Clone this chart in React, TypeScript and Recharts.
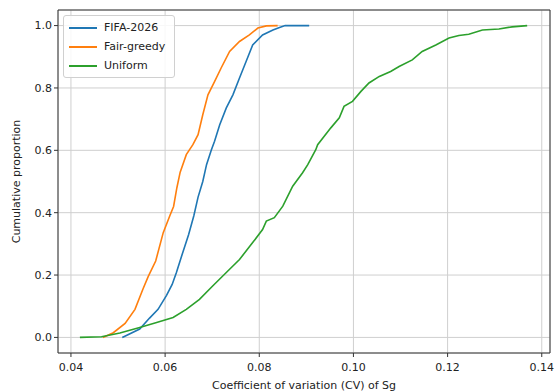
import { LineChart, Line, XAxis, YAxis, CartesianGrid, Legend, ReferenceLine } from 'recharts';

const xTicks = [0.04, 0.06, 0.08, 0.1, 0.12, 0.14];
const yTicks = [0, 0.2, 0.4, 0.6, 0.8, 1.0];

const fifaX = [0.0509, 0.0546, 0.0567, 0.0585, 0.0603, 0.0615, 0.0624, 0.0637, 0.065, 0.0661, 0.067, 0.068, 0.0688, 0.0698, 0.0705, 0.0716, 0.073, 0.0744, 0.0758, 0.0772, 0.0786, 0.0807, 0.0829, 0.0843, 0.0855, 0.0906];
const fifaY = [0, 0.027, 0.062, 0.09, 0.135, 0.17, 0.208, 0.27, 0.33, 0.39, 0.45, 0.5, 0.554, 0.6, 0.629, 0.682, 0.736, 0.778, 0.832, 0.885, 0.938, 0.97, 0.986, 0.994, 1.0, 1.0];

const fairX = [0.0468, 0.049, 0.0515, 0.0536, 0.0553, 0.0564, 0.058, 0.0596, 0.061, 0.0618, 0.0625, 0.0632, 0.0645, 0.0659, 0.067, 0.068, 0.0691, 0.0705, 0.0719, 0.0737, 0.0758, 0.0779, 0.0797, 0.0815, 0.0839];
const fairY = [0, 0.015, 0.045, 0.09, 0.155, 0.195, 0.245, 0.336, 0.39, 0.42, 0.48, 0.53, 0.586, 0.618, 0.65, 0.714, 0.778, 0.82, 0.864, 0.917, 0.949, 0.97, 0.992, 0.999, 1.0];

const uniformX = [0.0419, 0.0465, 0.0504, 0.0546, 0.0582, 0.0617, 0.0645, 0.0673, 0.0701, 0.073, 0.0758, 0.0786, 0.0807, 0.0815, 0.0832, 0.085, 0.0871, 0.0892, 0.0903, 0.092, 0.0924, 0.0952, 0.097, 0.098, 0.0998, 0.1016, 0.1033, 0.1055, 0.1079, 0.1097, 0.1125, 0.1146, 0.1175, 0.1203, 0.1224, 0.1245, 0.1274, 0.1309, 0.1337, 0.1369];
const uniformY = [0, 0.002, 0.014, 0.032, 0.048, 0.064, 0.09, 0.122, 0.165, 0.208, 0.25, 0.304, 0.346, 0.373, 0.384, 0.421, 0.485, 0.528, 0.554, 0.602, 0.618, 0.672, 0.704, 0.741, 0.757, 0.789, 0.816, 0.837, 0.853, 0.869, 0.89, 0.917, 0.938, 0.96, 0.968, 0.972, 0.986, 0.989, 0.996, 1.0];

const toPoints = (xs: number[], ys: number[]) => xs.map((x, i) => ({ x, y: ys[i] }));

const series = [
    { name: 'FIFA-2026', color: '#1f77b4', data: toPoints(fifaX, fifaY) },
    { name: 'Fair-greedy', color: '#ff7f0e', data: toPoints(fairX, fairY) },
    { name: 'Uniform', color: '#2ca02c', data: toPoints(uniformX, uniformY) },
];

const font = 'DejaVu Sans, sans-serif';
const X_MIN = 0.03725;
const X_MAX = 0.14175;
const Y_MIN = -0.05;
const Y_MAX = 1.05;

function LegendBox() {
    return (
        <div
            style={{
                background: 'rgba(255,255,255,0.85)',
                border: '1px solid #d0d0d0',
                borderRadius: 3,
                padding: '2px 9px 2px 5px',
                fontFamily: font,
                fontSize: 11,
                color: '#222',
                width: 'fit-content',
            }}
        >
            {series.map((s) => (
                <div key={s.name} style={{ display: 'flex', alignItems: 'center', height: 19, whiteSpace: 'nowrap' }}>
                    <span style={{ display: 'inline-block', width: 28, height: 2, background: s.color, marginRight: 7 }} />
                    <span>{s.name}</span>
                </div>
            ))}
        </div>
    );
}

export default function App() {
    return (
        <div style={{ position: 'absolute', left: 0, top: 0, background: '#fff' }}>
            <LineChart width={556} height={392} margin={{ top: 10, right: 6, left: 0, bottom: 0 }}>
                <CartesianGrid stroke="#cfcfcf" strokeWidth={1} />
                <XAxis
                    type="number"
                    dataKey="x"
                    domain={[X_MIN, X_MAX]}
                    ticks={xTicks}
                    allowDataOverflow
                    height={39}
                    tickSize={4}
                    tickMargin={6}
                    stroke="#333"
                    tick={{ fill: '#222', fontSize: 11, fontFamily: font }}
                    tickFormatter={(v: number) => v.toFixed(2)}
                    label={{
                        value: 'Coefficient of variation (CV) of Sg',
                        position: 'insideBottom',
                        offset: 3,
                        fill: '#222',
                        fontSize: 11,
                        fontFamily: font,
                    }}
                />
                <YAxis
                    type="number"
                    dataKey="y"
                    domain={[Y_MIN, Y_MAX]}
                    ticks={yTicks}
                    allowDataOverflow
                    width={58}
                    tickSize={4}
                    tickMargin={2}
                    stroke="#333"
                    tick={{ fill: '#222', fontSize: 11, fontFamily: font }}
                    tickFormatter={(v: number) => v.toFixed(1)}
                    label={{
                        value: 'Cumulative proportion',
                        angle: -90,
                        position: 'insideLeft',
                        offset: 16,
                        fill: '#222',
                        fontSize: 11,
                        fontFamily: font,
                        style: { textAnchor: 'middle' },
                    }}
                />
                <ReferenceLine y={Y_MAX} stroke="#333" strokeWidth={1} />
                <ReferenceLine x={X_MAX} stroke="#333" strokeWidth={1} />
                <Legend
                    layout="horizontal"
                    verticalAlign="middle"
                    align="center"
                    wrapperStyle={{ top: 15, left: 63, width: 'auto' }}
                    content={() => <LegendBox />}
                />
                {series.map((s) => (
                    <Line
                        key={s.name}
                        data={s.data}
                        dataKey="y"
                        name={s.name}
                        type="linear"
                        stroke={s.color}
                        strokeWidth={1.6}
                        dot={false}
                        activeDot={false}
                        isAnimationActive={false}
                    />
                ))}
            </LineChart>
        </div>
    );
}
